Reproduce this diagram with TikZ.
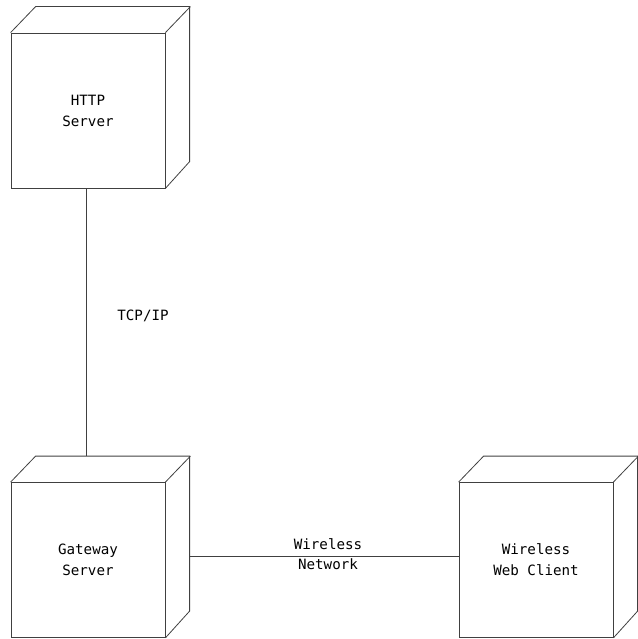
\documentclass[tikz,border=0pt]{standalone}
\usepackage{fontspec}
\setmonofont{DejaVu Sans Mono}
\usetikzlibrary{positioning}
\tikzset{
  device/.style={draw, minimum width=154pt, minimum height=155pt, inner sep=0pt,
    align=center, font=\ttfamily\fontsize{14.2}{21}\selectfont},
  linklabel/.style={align=center, inner sep=0pt, font=\ttfamily\fontsize{14.2}{20}\selectfont}
}
% top and right faces of a device box
\newcommand{\devicedepth}[1]{%
  \draw (#1.north west) -- ++(25pt,26pt) -- ++(154pt,0pt) -- ++(0pt,-155pt) -- (#1.south east);
  \draw (#1.north east) -- ++(25pt,26pt);
}

\begin{document}
\begin{tikzpicture}[x=1pt, y=-1pt, line width=0.8pt, draw=black!75]

\useasboundingbox (0,0) rectangle (637,639);

\node[device] (http) at (88,110.5) {HTTP\\Server};
\node[device] (gateway) at (88,560) {Gateway\\Server};
\node[device] (client) at (536,560) {Wireless\\Web Client};

\devicedepth{http}
\devicedepth{gateway}
\devicedepth{client}

\path (gateway.north) ++(-2pt,26pt) coordinate (gwtop);
\path (gateway.east) ++(25pt,4pt) coordinate (gwback);

\draw (http.south) ++(-2pt,0pt) -- (gwtop);
\draw (gwback) -- (gwback -| client.west);

\node[linklabel] (tcp) at (143,316) {TCP/IP};
\node[linklabel] (wireless) at (328,554) {Wireless\\Network};

\end{tikzpicture}
\end{document}
